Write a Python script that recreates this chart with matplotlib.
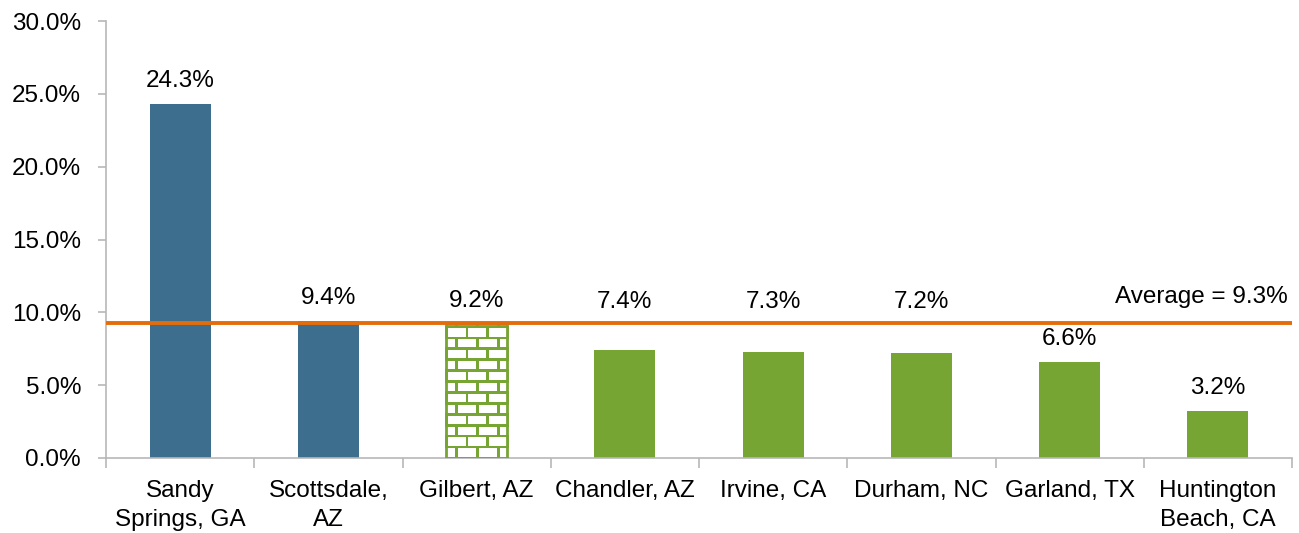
import numpy as np
import matplotlib.pyplot as plt
from matplotlib.patches import Rectangle
from matplotlib.ticker import FuncFormatter

cities = ['Sandy\nSprings, GA', 'Scottsdale,\nAZ', 'Gilbert, AZ', 'Chandler, AZ',
          'Irvine, CA', 'Durham, NC', 'Garland, TX', 'Huntington\nBeach, CA']
growth = [24.3, 9.4, 9.2, 7.4, 7.3, 7.2, 6.6, 3.2]
groups = ['blue', 'blue', 'brick', 'green', 'green', 'green', 'green', 'green']
average = 9.3

BLUE = '#3D6E8E'
GREEN = '#77A534'
ORANGE = '#E46C0A'
GRID = '#B7B7B7'
FS = 17.5

plt.rcParams['font.family'] = ['Liberation Sans', 'DejaVu Sans']

fig = plt.figure(figsize=(12.99, 5.33), dpi=100)
ax = fig.add_axes([106 / 1299, 75 / 533, 1186 / 1299, 437 / 533])

x = np.arange(len(cities))
bw = 0.41
colors = [BLUE if g == 'blue' else GREEN for g in groups]
bars = ax.bar(x, growth, width=bw, color=colors, zorder=2)

# brick pattern for the highlighted bar (white bricks, green mortar)
for b, g in zip(bars, groups):
    if g != 'brick':
        continue
    b.set_edgecolor(GREEN)
    b.set_linewidth(2)
    x0, w, h = b.get_x(), b.get_width(), b.get_height()
    row_h = 0.75
    brick_w = 0.14
    mortar_x = 0.02
    mortar_y = 0.18
    n_rows = int(np.ceil(h / row_h))
    for r in range(n_rows):
        y0 = r * row_h + mortar_y / 2
        off = brick_w / 2 if r % 2 == 0 else 0
        xs = x0 - off
        while xs < x0 + w:
            rect = Rectangle((xs + mortar_x / 2, y0), brick_w - mortar_x,
                             row_h - mortar_y, facecolor='white',
                             edgecolor='none', zorder=3)
            rect.set_clip_path(b)
            ax.add_patch(rect)
            xs += brick_w
    ax.bar(b.get_x() + w / 2, h, width=w, facecolor='none', edgecolor=GREEN,
           linewidth=2, zorder=3.5)

ax.axhline(average, color=ORANGE, lw=2.8, zorder=4)

# value labels; ones that would hit the average line sit above it
for xi, v in zip(x, growth):
    y = v + 1.6
    if y - 0.7 < average + 0.3 and y + 0.7 > average - 0.3:
        y = average + 1.4
    ax.text(xi, y, f'{v:.1f}%', ha='center', va='center', fontsize=FS,
            color='black', zorder=5)

ax.text(len(cities) - 0.53, average + 1.75, f'Average = {average}%', ha='right',
        va='center', fontsize=FS, color='black', zorder=5)

ax.set_xlim(-0.5, len(cities) - 0.5)
ax.set_ylim(0, 30)
ax.set_yticks(np.arange(0, 30.1, 5))
ax.yaxis.set_major_formatter(FuncFormatter(lambda v, p: f'{v:.1f}%'))
ax.set_xticks(x)
ax.set_xticklabels(cities, fontsize=FS, linespacing=1.4)
ax.set_xticks(np.arange(-0.5, len(cities)), minor=True)
ax.tick_params(axis='x', which='major', length=0, pad=16)
ax.tick_params(axis='x', which='minor', length=7, color=GRID, width=1.2)
ax.tick_params(axis='y', labelsize=FS, length=6, color=GRID, width=1.2, pad=12)

for s in ['top', 'right']:
    ax.spines[s].set_visible(False)
for s in ['left', 'bottom']:
    ax.spines[s].set_color(GRID)
    ax.spines[s].set_linewidth(1.2)

fig.savefig('out.png', dpi=100)
